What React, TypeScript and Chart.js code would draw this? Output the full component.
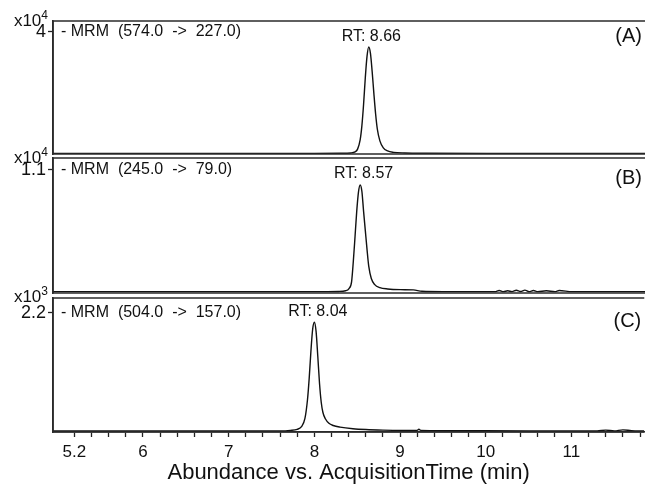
import { useEffect, useRef } from "react";
import { Chart, registerables } from "chart.js";

Chart.register(...registerables);

const FONT = '"Liberation Sans", Arial, sans-serif';

// X axis (acquisition time, min)
const xMin = 4.95;
const xMax = 11.85;
const xTickValues = [
  5.2, 5.4, 5.6, 5.8, 6.0, 6.2, 6.4, 6.6, 6.8, 7.0, 7.2, 7.4, 7.6, 7.8, 8.0, 8.2, 8.4,
  8.6, 8.8, 9.0, 9.2, 9.4, 9.6, 9.8, 10.0, 10.2, 10.4, 10.6, 10.8, 11.0, 11.2, 11.4, 11.6, 11.8,
];
const xTickLabels = ["5.2", "6", "7", "8", "9", "10", "11"];

// Panel A: MRM 574.0 -> 227.0 (abundance x10^4)
const timeA = [4.95, 6.0, 7.0, 8.0, 8.3, 8.42, 8.47, 8.5, 8.53, 8.55, 8.57, 8.59, 8.61, 8.63, 8.65, 8.67, 8.69, 8.71, 8.73, 8.76, 8.8, 8.85, 8.92, 9.05, 9.3, 10.0, 11.0, 11.85];
const abundA = [0.02, 0.02, 0.02, 0.02, 0.025, 0.035, 0.07, 0.16, 0.46, 0.92, 1.63, 2.5, 3.2, 3.51, 3.3, 2.7, 1.98, 1.32, 0.82, 0.43, 0.2, 0.1, 0.055, 0.035, 0.025, 0.02, 0.02, 0.02];

// Panel B: MRM 245.0 -> 79.0 (abundance x10^4)
const timeB = [4.95, 6.0, 7.0, 8.0, 8.28, 8.36, 8.4, 8.43, 8.45, 8.47, 8.49, 8.51, 8.53, 8.55, 8.57, 8.59, 8.61, 8.63, 8.66, 8.7, 8.76, 8.85, 9.0, 9.15, 9.25, 9.5, 10.1, 10.15, 10.2, 10.25, 10.3, 10.35, 10.4, 10.45, 10.5, 10.55, 10.6, 10.7, 10.8, 10.85, 11.0, 11.85];
const abundB = [0.012, 0.012, 0.012, 0.012, 0.014, 0.02, 0.04, 0.1, 0.28, 0.5, 0.73, 0.9, 0.966, 0.91, 0.73, 0.56, 0.39, 0.24, 0.13, 0.075, 0.048, 0.036, 0.03, 0.028, 0.015, 0.012, 0.012, 0.022, 0.012, 0.02, 0.012, 0.024, 0.014, 0.026, 0.012, 0.022, 0.012, 0.02, 0.012, 0.022, 0.012, 0.012];

// Panel C: MRM 504.0 -> 157.0 (abundance x10^3)
const timeC = [4.95, 6.0, 7.0, 7.6, 7.72, 7.8, 7.85, 7.89, 7.92, 7.94, 7.96, 7.98, 8.0, 8.02, 8.04, 8.06, 8.08, 8.1, 8.13, 8.17, 8.22, 8.3, 8.45, 8.6, 8.8, 9.0, 9.2, 9.22, 9.24, 9.5, 10.5, 11.3, 11.4, 11.5, 11.6, 11.7, 11.85];
const abundC = [0.02, 0.02, 0.02, 0.02, 0.03, 0.05, 0.1, 0.25, 0.6, 1.0, 1.5, 1.9, 2.03, 1.86, 1.4, 0.9, 0.55, 0.36, 0.24, 0.16, 0.12, 0.09, 0.06, 0.045, 0.035, 0.03, 0.03, 0.05, 0.03, 0.025, 0.02, 0.02, 0.035, 0.02, 0.04, 0.025, 0.02];

type Panel = {
  time: number[];
  abund: number[];
  yMax: number;
  yTick: number;
  yTickLabel: string;
  exponent: string;
  expOffset: number;
  mrm: string;
  rt: number;
  rtLabel: string;
  rtY: number;
  letter: string;
  letterY: number;
  padTop: number;
  padBottom: number;
  showX: boolean;
};

const panels: Panel[] = [
  {
    time: timeA, abund: abundA, yMax: 4.36, yTick: 4, yTickLabel: "4", exponent: "4", expOffset: 6,
    mrm: "- MRM  (574.0  ->  227.0)", rt: 8.66, rtLabel: "RT: 8.66", rtY: 3.84,
    letter: "(A)", letterY: 3.84, padTop: 21, padBottom: 330, showX: false,
  },
  {
    time: timeB, abund: abundB, yMax: 1.207, yTick: 1.1, yTickLabel: "1.1", exponent: "4", expOffset: 7,
    mrm: "- MRM  (245.0  ->  79.0)", rt: 8.57, rtLabel: "RT: 8.57", rtY: 1.064,
    letter: "(B)", letterY: 1.02, padTop: 158, padBottom: 191, showX: false,
  },
  {
    time: timeC, abund: abundC, yMax: 2.477, yTick: 2.2, yTickLabel: "2.2", exponent: "3", expOffset: 11,
    mrm: "- MRM  (504.0  ->  157.0)", rt: 8.04, rtLabel: "RT: 8.04", rtY: 2.22,
    letter: "(C)", letterY: 2.05, padTop: 298, padBottom: 0, showX: true,
  },
];

function makePlugin(p: Panel) {
  return {
    id: "panelDecor",
    afterDraw(chart: any) {
      const { ctx, chartArea: a, scales } = chart;
      ctx.save();
      ctx.strokeStyle = "#2b2b2b";
      ctx.lineWidth = 1.6;
      ctx.beginPath();
      ctx.moveTo(a.left, a.top);
      ctx.lineTo(a.right, a.top);
      ctx.moveTo(a.left, a.bottom);
      ctx.lineTo(a.right, a.bottom);
      ctx.moveTo(a.left, a.top);
      ctx.lineTo(a.left, a.bottom);
      ctx.stroke();

      const yT = scales.y.getPixelForValue(p.yTick);
      ctx.fillStyle = "#111";
      ctx.textBaseline = "middle";
      ctx.font = `16px ${FONT}`;
      ctx.textAlign = "left";
      ctx.fillText(p.mrm, a.left + 8, yT);
      ctx.textAlign = "center";
      ctx.fillText(p.rtLabel, scales.x.getPixelForValue(p.rt), scales.y.getPixelForValue(p.rtY));
      ctx.font = `20px ${FONT}`;
      ctx.textAlign = "right";
      ctx.fillText(p.letter, a.right - 3, scales.y.getPixelForValue(p.letterY));

      // multiplier label x10^n
      ctx.textBaseline = "alphabetic";
      ctx.font = `12px ${FONT}`;
      const expW = ctx.measureText(p.exponent).width;
      const right = a.left - 5;
      ctx.fillText(p.exponent, right, yT - p.expOffset - 7);
      ctx.font = `17px ${FONT}`;
      ctx.fillText("x10", right - expW, yT - p.expOffset);
      ctx.restore();
    },
  };
}

function PanelChart({ p }: { p: Panel }) {
  const ref = useRef<HTMLCanvasElement>(null);
  useEffect(() => {
    if (!ref.current) return;
    const chart = new Chart(ref.current, {
      type: "line",
      data: {
        datasets: [
          {
            data: p.time.map((t, i) => ({ x: t, y: p.abund[i] })),
            borderColor: "#111",
            borderWidth: 1.4,
            pointRadius: 0,
            fill: false,
            cubicInterpolationMode: "monotone",
          },
        ],
      },
      options: {
        animation: false,
        responsive: false,
        events: [],
        layout: { padding: { top: p.padTop, bottom: p.padBottom, left: 0, right: 0 } },
        plugins: { legend: { display: false }, tooltip: { enabled: false } },
        scales: {
          x: {
            type: "linear",
            min: xMin,
            max: xMax,
            display: p.showX,
            afterBuildTicks: (s: any) => {
              s.ticks = xTickValues.map((v) => ({ value: v }));
            },
            afterFit: (s: any) => {
              s.height = p.showX ? 52 : 0;
            },
            ticks: {
              autoSkip: false,
              maxRotation: 0,
              padding: 5,
              color: "#111",
              font: { size: 17, family: FONT },
              callback: (v: any) => {
                const lbl = xTickLabels.find((l) => Math.abs(parseFloat(l) - Number(v)) < 1e-6);
                return lbl ?? "";
              },
            },
            grid: { drawOnChartArea: false, drawTicks: true, tickLength: 5, tickColor: "#222", tickWidth: 1.3 },
            border: { display: true, color: "#2b2b2b", width: 1.6 },
            title: {
              display: true,
              text: "Abundance vs. AcquisitionTime (min)",
              color: "#111",
              font: { size: 22, family: FONT, lineHeight: 1 },
              padding: { top: 0, bottom: 0 },
            },
          },
          y: {
            type: "linear",
            min: 0,
            max: p.yMax,
            afterBuildTicks: (s: any) => {
              s.ticks = [{ value: p.yTick }];
            },
            afterFit: (s: any) => {
              s.width = 53;
            },
            ticks: {
              padding: 2,
              color: "#111",
              font: { size: 18, family: FONT },
              callback: () => p.yTickLabel,
            },
            grid: { drawOnChartArea: false, drawTicks: true, tickLength: 5, tickColor: "#222", tickWidth: 1.3 },
            border: { display: true, color: "#2b2b2b", width: 1.6 },
          },
        },
      },
      plugins: [makePlugin(p)],
    } as any);
    return () => chart.destroy();
  }, [p]);
  return (
    <canvas
      ref={ref}
      width={645}
      height={484}
      style={{ position: "absolute", left: 0, top: 0, width: 645, height: 484 }}
    />
  );
}

export default function App() {
  return (
    <div style={{ position: "fixed", left: 0, top: 0, width: 645, height: 484, background: "#fff" }}>
      {panels.map((p) => (
        <PanelChart key={p.letter} p={p} />
      ))}
    </div>
  );
}
